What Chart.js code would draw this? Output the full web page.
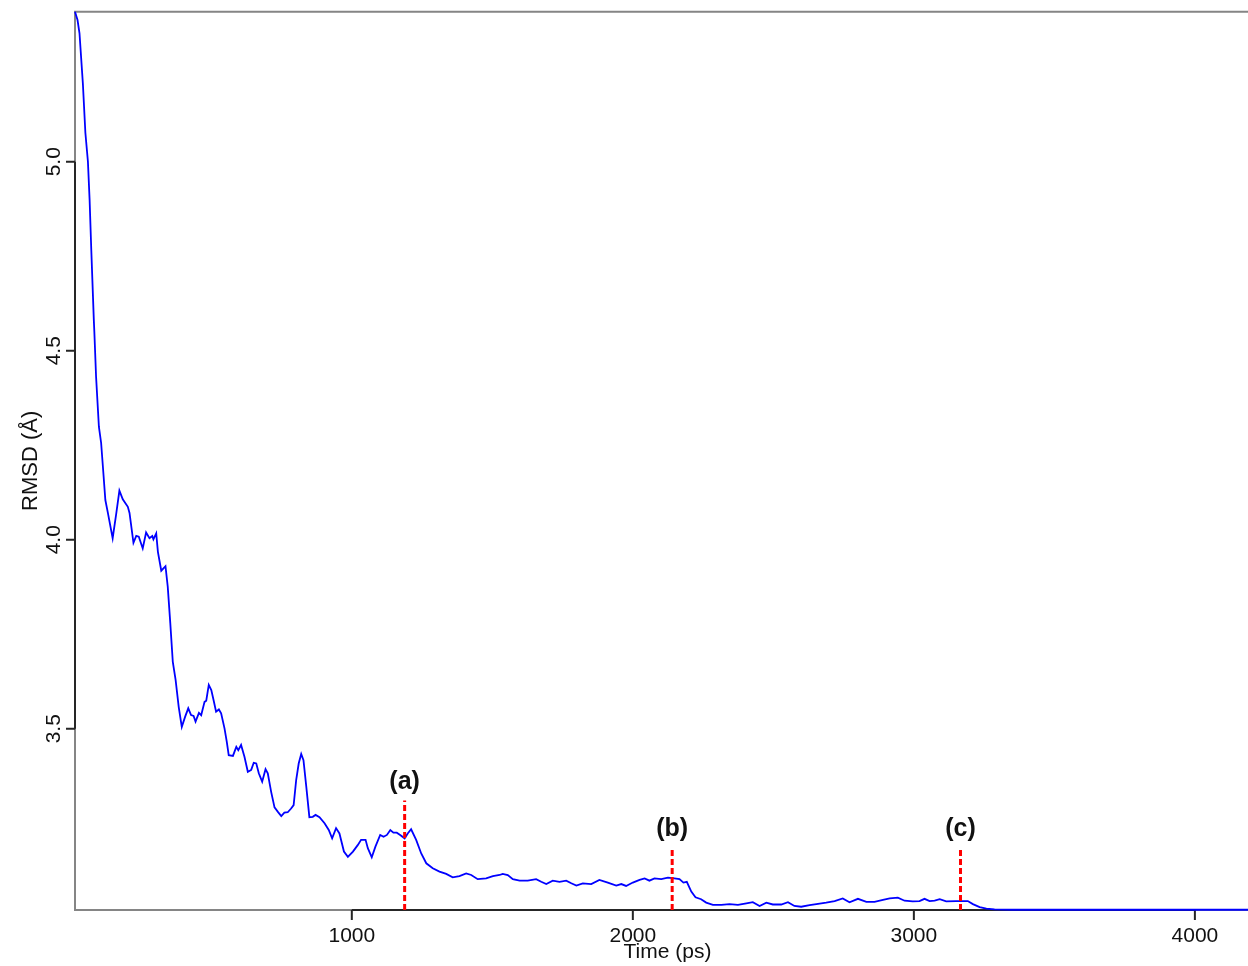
<!DOCTYPE html>
<html>
<head>
<meta charset="utf-8">
<script src="https://cdn.jsdelivr.net/npm/chart.js@4/dist/chart.umd.min.js"></script>
<style>
  html, body { margin: 0; padding: 0; background: #ffffff; }
  #wrap { position: relative; width: 1248px; height: 966px; }
</style>
</head>
<body>
<div id="wrap"><canvas id="c"></canvas></div>
<script>
// ---- data ----
const timePs = [15,24,31,43,52,61,67,73,82,84,90,100,108,116,123,132,149,161,173,185,203,209,223,233,242,256,268,280,290,294,304,310,322,337,345,354,363,373,384,395,407,418,428,437,444,456,464,476,482,491,500,508,517,527,535,547,555,562,577,589,596,606,618,630,642,651,660,669,681,693,701,713,725,737,749,760,772,784,793,802,811,820,828,838,849,861,871,885,903,918,930,944,956,972,986,1004,1021,1033,1049,1057,1071,1084,1101,1113,1125,1137,1148,1160,1172,1188,1199,1211,1229,1247,1265,1288,1312,1336,1359,1383,1407,1425,1448,1478,1502,1526,1537,1555,1573,1597,1626,1656,1674,1692,1715,1739,1763,1781,1799,1822,1852,1881,1911,1941,1959,1976,2000,2024,2042,2059,2077,2101,2125,2148,2166,2180,2192,2208,2223,2243,2261,2285,2315,2344,2374,2404,2427,2451,2475,2498,2528,2552,2575,2599,2629,2653,2688,2718,2747,2771,2801,2831,2860,2890,2914,2943,2967,2996,3020,3038,3056,3074,3092,3115,3151,3192,3210,3234,3258,3287,3350,4189];
const rmsd = [5.397,5.375,5.340,5.207,5.076,5.000,4.899,4.766,4.581,4.547,4.431,4.299,4.256,4.176,4.105,4.071,4.004,4.065,4.130,4.107,4.087,4.071,3.992,4.010,4.008,3.977,4.019,4.004,4.010,4.001,4.017,3.968,3.918,3.930,3.876,3.780,3.677,3.629,3.558,3.505,3.532,3.554,3.536,3.534,3.519,3.542,3.536,3.571,3.574,3.616,3.602,3.576,3.545,3.551,3.541,3.501,3.466,3.430,3.428,3.452,3.443,3.457,3.426,3.386,3.391,3.410,3.408,3.382,3.360,3.393,3.382,3.333,3.292,3.280,3.269,3.278,3.279,3.289,3.298,3.364,3.408,3.433,3.417,3.347,3.266,3.267,3.272,3.266,3.250,3.232,3.210,3.237,3.223,3.175,3.161,3.175,3.192,3.206,3.206,3.184,3.160,3.188,3.219,3.214,3.219,3.232,3.225,3.225,3.219,3.210,3.223,3.234,3.206,3.170,3.144,3.131,3.122,3.116,3.107,3.110,3.117,3.113,3.102,3.104,3.110,3.113,3.116,3.113,3.102,3.098,3.098,3.102,3.095,3.089,3.098,3.095,3.098,3.091,3.085,3.091,3.089,3.100,3.093,3.085,3.089,3.084,3.093,3.100,3.104,3.098,3.104,3.102,3.106,3.104,3.102,3.093,3.095,3.069,3.054,3.049,3.040,3.034,3.034,3.036,3.034,3.038,3.041,3.031,3.040,3.035,3.035,3.041,3.031,3.029,3.033,3.036,3.040,3.044,3.051,3.041,3.050,3.042,3.042,3.047,3.051,3.053,3.045,3.043,3.044,3.050,3.044,3.045,3.049,3.043,3.044,3.044,3.036,3.028,3.024,3.022,3.021,3.021];

const markerLabels = ["(a)", "(b)", "(c)"];
const markerTimes = [1188, 2140, 3166];
const markerTops = [3.31, 3.185, 3.185];

const xTickValues = [1000, 2000, 3000, 4000];
const xTickLabels = ["1000", "2000", "3000", "4000"];
const yTickValues = [3.5, 4.0, 4.5, 5.0];
const yTickLabels = ["3.5", "4.0", "4.5", "5.0"];

const xTitle = "Time (ps)";
const yTitle = "RMSD (Å)";

const xMin = 15, xMax = 4189;
const yMin = 3.0204, yMax = 5.397;

// ---- build datasets ----
const mainData = timePs.map((t, i) => ({ x: t, y: rmsd[i] }));
const markerSets = markerTimes.map((t, i) => ({
  data: [{ x: t, y: yMin }, { x: t, y: markerTops[i] }],
  borderColor: '#ff0000',
  borderWidth: 3,
  borderDash: [6, 3],
  pointRadius: 0,
  order: 0,
  clip: false
}));

const FONT = '"Liberation Sans", Arial, Helvetica, sans-serif';

const rAxes = {
  id: 'rAxes',
  beforeDatasetsDraw(chart) {
    const { ctx, chartArea: a, scales: { x, y } } = chart;
    ctx.save();
    // grey box
    ctx.lineWidth = 2;
    ctx.strokeStyle = '#858585';
    ctx.lineCap = 'square';
    ctx.beginPath();
    ctx.moveTo(a.left, a.bottom); ctx.lineTo(a.left, a.top); ctx.lineTo(a.right + 5, a.top);
    ctx.moveTo(a.left, a.bottom); ctx.lineTo(a.right + 5, a.bottom);
    ctx.stroke();
    // black axis lines between first and last ticks
    ctx.strokeStyle = '#262626';
    ctx.lineCap = 'butt';
    ctx.beginPath();
    const yTop = y.getPixelForValue(Math.max(...yTickValues));
    const yBot = y.getPixelForValue(Math.min(...yTickValues));
    ctx.moveTo(a.left, yTop); ctx.lineTo(a.left, yBot);
    const xL = x.getPixelForValue(Math.min(...xTickValues));
    const xR = x.getPixelForValue(Math.max(...xTickValues));
    ctx.moveTo(xL, a.bottom); ctx.lineTo(xR, a.bottom);
    // tick marks
    yTickValues.forEach(v => {
      const py = y.getPixelForValue(v);
      ctx.moveTo(a.left, py); ctx.lineTo(a.left - 9, py);
    });
    xTickValues.forEach(v => {
      const px = x.getPixelForValue(v);
      ctx.moveTo(px, a.bottom); ctx.lineTo(px, a.bottom + 10);
    });
    ctx.stroke();
    ctx.restore();
  },
  afterDraw(chart) {
    const { ctx, chartArea: a, scales: { x, y } } = chart;
    ctx.save();
    ctx.fillStyle = '#111';
    // x tick labels
    ctx.font = '21px ' + FONT;
    ctx.textAlign = 'center';
    ctx.textBaseline = 'alphabetic';
    xTickValues.forEach((v, i) => {
      ctx.fillText(xTickLabels[i], x.getPixelForValue(v), 941.5);
    });
    // y tick labels rotated
    yTickValues.forEach((v, i) => {
      ctx.save();
      ctx.translate(60, y.getPixelForValue(v));
      ctx.rotate(-Math.PI / 2);
      ctx.fillText(yTickLabels[i], 0, 0);
      ctx.restore();
    });
    // axis titles
    ctx.font = '21px ' + FONT;
    ctx.fillText(xTitle, (a.left + a.right) / 2 + 6, 958);
    ctx.save();
    ctx.translate(37, (a.top + a.bottom) / 2);
    ctx.rotate(-Math.PI / 2);
    ctx.font = '22px ' + FONT;
    ctx.fillText(yTitle, 0, 0);
    ctx.restore();
    // marker labels
    ctx.font = 'bold 25px ' + FONT;
    markerTimes.forEach((t, i) => {
      ctx.fillText(markerLabels[i], x.getPixelForValue(t), y.getPixelForValue(markerTops[i]) - 12);
    });
    ctx.restore();
  }
};

new Chart(document.getElementById('c'), {
  type: 'line',
  data: {
    datasets: [
      ...markerSets,
      {
        data: mainData,
        borderColor: '#0000ff',
        borderWidth: 1.8,
        pointRadius: 0,
        tension: 0,
        order: 1,
        clip: 4
      }
    ]
  },
  options: {
    responsive: true,
    maintainAspectRatio: false,
    animation: false,
    events: [],
    layout: { padding: { left: 75, right: 0, top: 11.7, bottom: 56 } },
    plugins: { legend: { display: false }, tooltip: { enabled: false } },
    scales: {
      x: { type: 'linear', min: xMin, max: xMax, display: false },
      y: { type: 'linear', min: yMin, max: yMax, display: false }
    }
  },
  plugins: [rAxes]
});
</script>
</body>
</html>
